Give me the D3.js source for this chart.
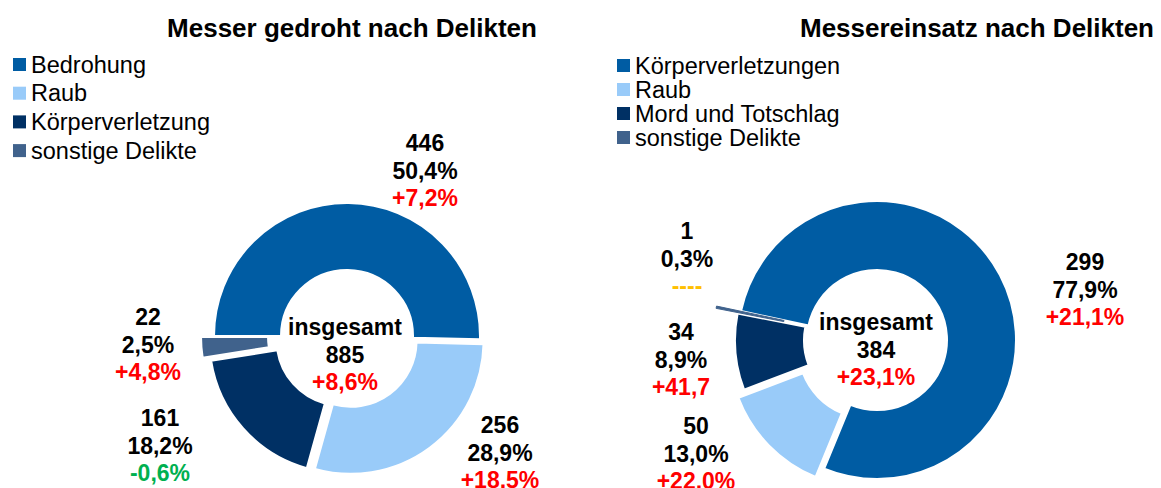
<!DOCTYPE html>
<html>
<head>
<meta charset="utf-8">
<script src="https://cdn.jsdelivr.net/npm/d3@7"></script>
<style>
  body { margin: 0; background: #fff; }
  svg { font-family: "Liberation Sans", Arial, sans-serif; }
</style>
</head>
<body>
<div id="page"></div>
<script>
// left chart: Messer gedroht
const leftCategories = ['Bedrohung', 'Raub', 'Körperverletzung', 'sonstige Delikte'];
const leftValues = [446, 256, 161, 22];
const leftShares = ['50,4%', '28,9%', '18,2%', '2,5%'];
const leftChanges = ['+7,2%', '+18,5%', '-0,6%', '+4,8%'];
const leftTotal = ['insgesamt', '885', '+8,6%'];

// right chart: Messereinsatz
const rightCategories = ['Körperverletzungen', 'Raub', 'Mord und Totschlag', 'sonstige Delikte'];
const rightValues = [299, 50, 34, 1];
const rightShares = ['77,9%', '13,0%', '8,9%', '0,3%'];
const rightChanges = ['+21,1%', '+22,0%', '+41,7', '----'];
const rightTotal = ['insgesamt', '384', '+23,1%'];

const sliceColors = ['#005ca3', '#99cbf9', '#003064', '#40628c'];

const width = 1161;
const height = 488;

const svg = d3.select('#page')
              .append('svg')
              .attr('width', width)
              .attr('height', height);

function changeColor(t) {
    if (t.startsWith('+')) return '#ff0000';
    if (t.startsWith('-') && t !== '----') return '#00b050';
    return '#ffc000';
}

function drawDonut(cfg) {
    const pie = d3.pie()
                  .sort(null)
                  .value(d => d)
                  .startAngle(cfg.start)
                  .endAngle(cfg.start + 2 * Math.PI);

    const arc = d3.arc()
                  .innerRadius(cfg.inner)
                  .outerRadius(cfg.outer);

    const arcs = pie(cfg.values);

    const g = svg.append('g')
                 .attr('transform', `translate(${cfg.cx},${cfg.cy})`);

    g.selectAll('path')
     .data(arcs)
     .enter()
     .append('path')
     .attr('d', arc)
     .attr('transform', (d, i) => {
         const a = (d.startAngle + d.endAngle) / 2;
         const o = cfg.explode[i];
         return `translate(${Math.sin(a) * o},${-Math.cos(a) * o})`;
     })
     .attr('fill', (d, i) => sliceColors[i])
     .attr('stroke', (d, i) => (d.endAngle - d.startAngle) < 0.04 ? sliceColors[i] : '#fff')
     .attr('stroke-width', (d) => (d.endAngle - d.startAngle) < 0.04 ? 1 : 2);

    // title
    svg.append('text')
       .attr('x', cfg.titleX)
       .attr('y', 37)
       .attr('text-anchor', 'middle')
       .style('font-size', '26px')
       .style('font-weight', 'bold')
       .text(cfg.title);

    // legend
    const lg = svg.selectAll(null)
                  .data(cfg.categories)
                  .enter()
                  .append('g')
                  .attr('transform', (d, i) => `translate(${cfg.legendX},${cfg.legendY + i * cfg.legendStep})`);

    lg.append('rect')
      .attr('x', 0)
      .attr('y', -6.5)
      .attr('width', 13)
      .attr('height', 13)
      .attr('fill', (d, i) => sliceColors[i]);

    lg.append('text')
      .attr('x', 18)
      .attr('y', 0)
      .attr('dominant-baseline', 'central')
      .style('font-size', '23.5px')
      .text(d => d);

    // data labels
    const lines = cfg.values.map((v, i) => [
        { t: String(v), c: '#000' },
        { t: cfg.shares[i], c: '#000' },
        { t: cfg.changes[i], c: changeColor(cfg.changes[i]) }
    ]);
    lines.push([
        { t: cfg.total[0], c: '#000' },
        { t: cfg.total[1], c: '#000' },
        { t: cfg.total[2], c: changeColor(cfg.total[2]) }
    ]);

    const lab = svg.selectAll(null)
                   .data(lines)
                   .enter()
                   .append('text')
                   .attr('text-anchor', 'middle')
                   .style('font-size', '23px')
                   .style('font-weight', 'bold');

    lab.selectAll('tspan')
       .data((d, i) => d.map(l => ({ ...l, pos: cfg.labelPos[i] })))
       .enter()
       .append('tspan')
       .attr('x', d => d.pos[0])
       .attr('y', (d, j) => d.pos[1] + j * 27.5)
       .attr('dominant-baseline', 'central')
       .attr('fill', d => d.c)
       .text(d => d.t);
}

drawDonut({
    title: 'Messer gedroht nach Delikten',
    titleX: 352,
    categories: leftCategories,
    values: leftValues,
    shares: leftShares,
    changes: leftChanges,
    total: leftTotal,
    cx: 347, cy: 336, outer: 133, inner: 66,
    start: -Math.PI / 2,
    explode: [0, 6, 6, 13],
    legendX: 13, legendY: 64.5, legendStep: 28.7,
    labelPos: [[425, 143], [500, 425], [160, 418], [148, 317], [345, 327]]
});

drawDonut({
    title: 'Messereinsatz nach Delikten',
    titleX: 977,
    categories: rightCategories,
    values: rightValues,
    shares: rightShares,
    changes: rightChanges,
    total: rightTotal,
    cx: 877, cy: 340, outer: 139, inner: 70,
    start: -78 * Math.PI / 180,
    explode: [0, 12, 3, 25],
    legendX: 617, legendY: 65.5, legendStep: 24,
    labelPos: [[1085, 262], [696, 426], [681, 332], [687, 231], [876, 322]]
});
</script>
</body>
</html>
